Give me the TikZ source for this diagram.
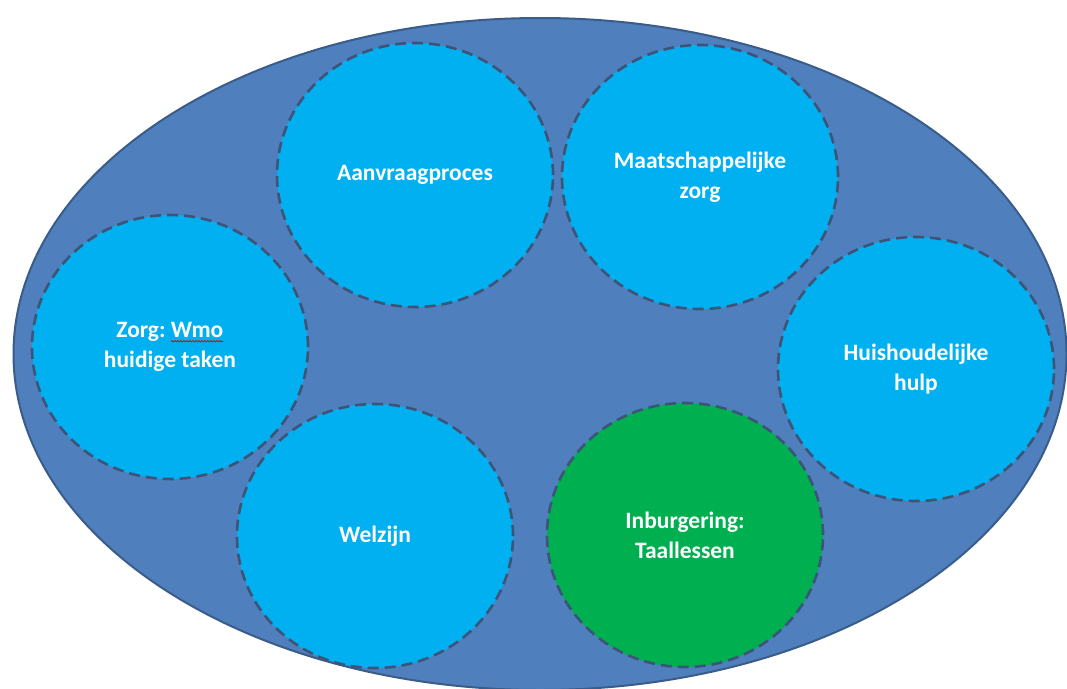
\documentclass[tikz,border=0pt]{standalone}
\usepackage{fontspec}
\setmainfont{Carlito}
\usepackage{xcolor}
\usetikzlibrary{shapes.geometric,decorations.pathmorphing}

\definecolor{schil}{HTML}{4F7FBC}
\definecolor{schilrand}{HTML}{3A5C89}
\definecolor{taakblauw}{HTML}{00B0F0}
\definecolor{taakgroen}{HTML}{00B050}
\definecolor{stippel}{HTML}{3C5478}

% red spell-check squiggle under a word
\newcommand{\kronkel}[1]{\tikz[baseline=(w.base)]{\node[rectangle,draw=none,fill=none,minimum width=0pt,minimum height=0pt,inner sep=0pt,outer sep=0pt,align=left,text=white] (w) {#1};
 \draw[red!85!black,solid,line width=0.7pt,decorate,decoration={snake,amplitude=0.7pt,segment length=3pt}]
 ([yshift=-3.5pt]w.south west) -- ([yshift=-3.5pt]w.south east);}}

\begin{document}
\begin{tikzpicture}[x=1pt,y=-1pt,
 bol/.style={ellipse,draw=stippel,fill=taakblauw,line width=2.6pt,dash pattern=on 11pt off 6pt,
  minimum width=276pt,minimum height=264pt,inner sep=0pt,text=white,align=center,
  font=\bfseries\fontsize{23.5}{30}\selectfont}]
 \useasboundingbox (0,0) rectangle (1067,688);
 % outer shell
 \node[ellipse,draw=schilrand,fill=schil,line width=2pt,minimum width=1053pt,minimum height=672pt,inner sep=0pt] (schil) at (540,354) {};
 % task circles
 \node[bol] (aanvraag) at (415,175) {Aanvraagproces};
 \node[bol] (maatsch) at (700,177) {Maatschappelijke\\zorg};
 \node[bol] (zorg) at (170,347) {Zorg:\hspace{5pt}\kronkel{Wmo}\\huidige taken};
 \node[bol] (huish) at (916,369) {Huishoudelijke\\hulp};
 \node[bol] (welzijn) at (375,536) {Welzijn};
 \node[bol,fill=taakgroen] (inburg) at (685,535) {Inburgering:\\Taallessen};
\end{tikzpicture}
\end{document}
